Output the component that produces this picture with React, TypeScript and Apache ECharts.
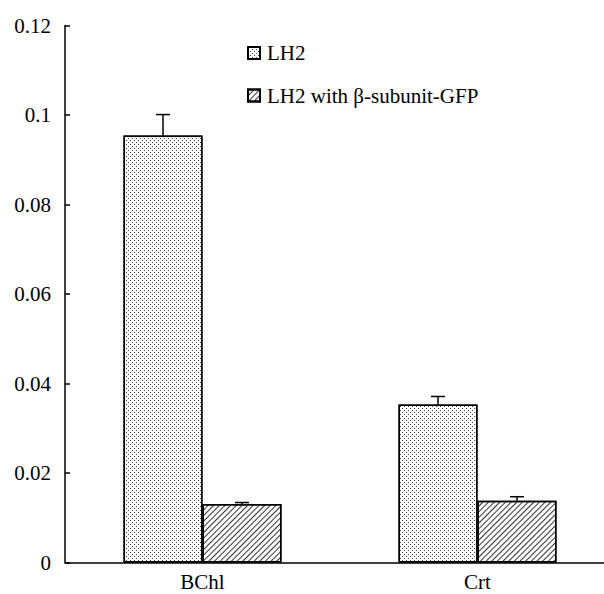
import React, { useEffect, useRef } from "react";
import * as echarts from "echarts";

const categories = ["BChl", "Crt"];
const lh2Values = [0.0954, 0.0353];
const lh2Errors = [0.0047, 0.0018];
const gfpValues = [0.0131, 0.0138];
const gfpErrors = [0.0003, 0.0009];
const seriesNames = ["LH2", "LH2 with β-subunit-GFP"];
const yMin = 0;
const yMax = 0.12;
const yInterval = 0.02;

const FONT = "'Liberation Serif', 'Times New Roman', serif";
const BAR_W = 79;

export default function App() {
  const ref = useRef<HTMLDivElement>(null);
  useEffect(() => {
    if (!ref.current) return;
    const chart = echarts.init(ref.current, null, { renderer: "svg" });

    const dotDecal = {
      symbol: "rect",
      symbolSize: 1,
      dashArrayX: [[1, 3], [0, 2, 1, 1]],
      dashArrayY: [1, 1],
      color: "#404040",
      backgroundColor: "#ffffff",
      rotation: 0,
    };
    const hatchDecal = {
      symbol: "rect",
      symbolSize: 1,
      dashArrayX: [1, 0],
      dashArrayY: [1.0, 2.1],
      color: "#333333",
      backgroundColor: "#ffffff",
      rotation: -Math.PI / 4,
    };

    const errData: number[][] = [];
    categories.forEach((_, i) => {
      errData.push([i, lh2Values[i], lh2Values[i] + lh2Errors[i], -1]);
      errData.push([i, gfpValues[i], gfpValues[i] + gfpErrors[i], 1]);
    });

    chart.setOption({
      animation: false,
      backgroundColor: "#ffffff",
      grid: {
        left: 65,
        width: 550,
        top: 25.5,
        bottom: 31.5,
        containLabel: false,
        outerBoundsMode: "none",
      },
      legend: {
        orient: "vertical",
        left: 242,
        top: 37,
        itemWidth: 12,
        itemHeight: 12,
        itemGap: 20.5,
        icon: "rect",
        data: seriesNames,
        textStyle: {
          fontFamily: FONT,
          fontSize: 21,
          color: "#000",
          lineHeight: 22,
          padding: [0, 0, 0, 2],
        },
      },
      xAxis: {
        type: "category",
        data: categories,
        axisLine: { lineStyle: { color: "#000", width: 1.5 } },
        axisTick: { inside: true, length: 6, lineStyle: { color: "#000", width: 1.5 } },
        axisLabel: { fontFamily: FONT, fontSize: 21, lineHeight: 16, color: "#000", margin: 11 },
        splitLine: { show: false },
      },
      yAxis: {
        type: "value",
        min: yMin,
        max: yMax,
        interval: yInterval,
        axisLine: { show: true, lineStyle: { color: "#000", width: 1.5 } },
        axisTick: { show: true, inside: true, length: 5, lineStyle: { color: "#000", width: 1.5 } },
        axisLabel: { fontFamily: FONT, fontSize: 21, color: "#000", margin: 14 },
        splitLine: { show: false },
      },
      series: [
        {
          name: seriesNames[0],
          type: "bar",
          data: lh2Values,
          barWidth: BAR_W,
          barGap: "0%",
          itemStyle: { color: "#ffffff", borderColor: "#000", borderWidth: 1.5, decal: dotDecal },
        },
        {
          name: seriesNames[1],
          type: "bar",
          data: gfpValues,
          barWidth: BAR_W,
          barGap: "0%",
          itemStyle: { color: "#ffffff", borderColor: "#000", borderWidth: 1.5, decal: hatchDecal },
        },
        {
          name: "errors",
          type: "custom",
          z: 10,
          data: errData,
          renderItem: (params: any, api: any) => {
            const cat = api.value(0);
            const val = api.value(1);
            const up = api.value(2);
            const side = api.value(3);
            const p0 = api.coord([cat, val]);
            const p1 = api.coord([cat, up]);
            const x = p0[0] + (side * BAR_W) / 2;
            const style = { stroke: "#000", lineWidth: 1.5 };
            return {
              type: "group",
              children: [
                { type: "line", shape: { x1: x, y1: p0[1], x2: x, y2: p1[1] }, style },
                { type: "line", shape: { x1: x - 7, y1: p1[1], x2: x + 7, y2: p1[1] }, style },
              ],
            };
          },
        },
      ],
    });
    return () => chart.dispose();
  }, []);
  return (
    <div
      ref={ref}
      style={{ position: "fixed", left: 0, top: 0, width: 604, height: 594, background: "#fff" }}
    />
  );
}
